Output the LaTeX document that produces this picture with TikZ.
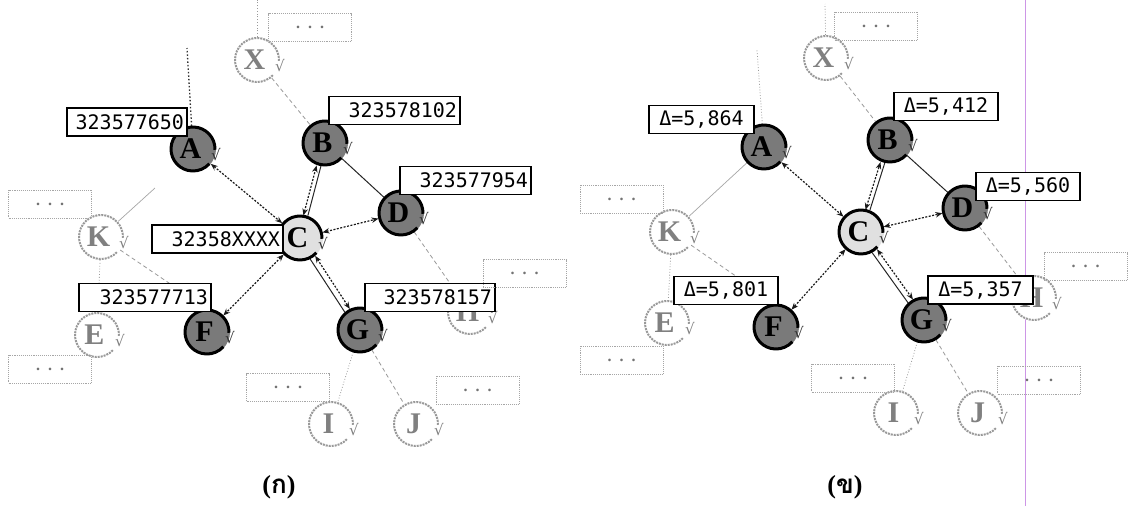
\documentclass[tikz,border=0pt]{standalone}
\usepackage{fontspec}
\setmainfont{Liberation Serif}
\newfontfamily\digfont{DejaVu Sans Mono}
\newfontfamily\chkfont{DejaVu Sans}
\newfontfamily\thaifont[Script=Thai]{Loma}
\usetikzlibrary{calc,arrows.meta}
\pgfdeclarelayer{bg}
\pgfdeclarelayer{paper}
\pgfsetlayers{paper,bg,main}
\definecolor{marginline}{RGB}{205,150,230}
\tikzset{
 base/.style={circle, minimum size=46pt, inner sep=0pt, font=\fontsize{30}{30}\selectfont\bfseries},
 act/.style={base, fill=black!52, text=black},
 cen/.style={base, fill=black!12, text=black},
 ina/.style={base, fill=white, text=black!50},
 lbl/.style={draw=black, fill=white, line width=1.1pt, inner xsep=3pt, inner ysep=0pt, minimum height=28pt, align=right, font=\digfont\fontsize{20}{20}\selectfont},
 dlbl/.style={lbl, align=center},
 dbox/.style={draw=black!35, densely dotted, line width=0.9pt, minimum width=83pt, minimum height=28pt, inner sep=0pt, text=black!55, font=\fontsize{16}{16}\selectfont\bfseries},
 darr/.style={dash pattern=on 2pt off 1.5pt, line width=1.2pt, black!90, {Stealth[length=7pt,width=5.5pt]}-{Stealth[length=7pt,width=5.5pt]}},
 sline/.style={line width=1pt, black!85},
 gdash/.style={line width=0.8pt, black!40, dash pattern=on 4pt off 3pt},
 gdot/.style={dotted, line width=0.8pt, black!40},
 gsol/.style={line width=0.7pt, black!35},
 chk/.style={font=\chkfont\fontsize{15}{15}\selectfont, inner sep=0pt},
 captxt/.style={font=\fontsize{26}{26}\selectfont\bfseries},
}
\newcommand\actring[1]{%
 \draw[line width=3pt] ($(#1)+(-2:22)$) arc[start angle=-2, end angle=318, radius=22pt];
 \node[chk, text=black!80] at ($(#1)+(23,-6)$) {√};}
\newcommand\inaring[1]{%
 \draw[line width=2pt, black!40, densely dotted] ($(#1)+(-2:22)$) arc[start angle=-2, end angle=318, radius=22pt];
 \node[chk, text=black!50] at ($(#1)+(23,-6)$) {√};}
\begin{document}
\begin{tikzpicture}[x=1pt,y=1pt]
\useasboundingbox (0,0) rectangle (1130,-506);
\begin{pgfonlayer}{paper}
\fill[white] (0,0) rectangle (1130,-506);
\draw[line width=0.9pt, marginline] (1025,0) -- (1025,-506);
\end{pgfonlayer}

% ---------- left panel nodes ----------
\node[ina] (lX) at (257,-60) {X\kern5pt};
\node[act] (lA) at (193,-149) {A\kern5pt};
\node[act] (lB) at (325,-143) {B\kern5pt};
\node[cen] (lC) at (300,-238) {C\kern5pt};
\node[act] (lD) at (401,-213) {D\kern5pt};
\node[ina] (lK) at (101,-237) {K\kern5pt};
\node[ina] (lE) at (97,-335) {E\kern5pt};
\node[act] (lF) at (207,-332) {F\kern5pt};
\node[act] (lG) at (360,-330) {G\kern5pt};
\node[ina] (lH) at (470,-312) {H\kern5pt};
\node[ina] (lI) at (331,-424) {I\kern5pt};
\node[ina] (lJ) at (416,-424) {J\kern5pt};
\foreach \n in {lA,lB,lC,lD,lF,lG} {\actring{\n}}
\foreach \n in {lX,lK,lE,lH,lI,lJ} {\inaring{\n}}
\coordinate (lXt) at (257,0);
\coordinate (lAt) at (187,-48);
\coordinate (lKa) at (155,-188);

% ---------- right panel nodes ----------
\node[ina] (rX) at (826,-58) {X\kern5pt};
\node[act] (rA) at (764,-147) {A\kern5pt};
\node[act] (rB) at (890,-140) {B\kern5pt};
\node[cen] (rC) at (861,-232) {C\kern5pt};
\node[act] (rD) at (965,-208) {D\kern5pt};
\node[ina] (rK) at (672,-232) {K\kern5pt};
\node[ina] (rE) at (667,-323) {E\kern5pt};
\node[act] (rF) at (776,-327) {F\kern5pt};
\node[act] (rG) at (924,-320) {G\kern5pt};
\node[ina] (rH) at (1034,-298) {H\kern5pt};
\node[ina] (rI) at (896,-413) {I\kern5pt};
\node[ina] (rJ) at (980,-413) {J\kern5pt};
\foreach \n in {rA,rB,rC,rD,rF,rG} {\actring{\n}}
\foreach \n in {rX,rK,rE,rH,rI,rJ} {\inaring{\n}}
\coordinate (rXt) at (825,-4);
\coordinate (rAt) at (757,-50);

% ---------- connectors ----------
\begin{pgfonlayer}{bg}
\draw[darr] (lA) -- (lC);
\draw[sline, transform canvas={xshift=2pt}] (lC) -- (lB);
\draw[darr, transform canvas={xshift=-2.5pt}] (lC) -- (lB);
\draw[darr] (lC) -- (lD);
\draw[darr] (lC) -- (lF);
\draw[sline, transform canvas={xshift=-2.5pt,yshift=-1.6pt}] (lC) -- (lG);
\draw[darr, transform canvas={xshift=2.5pt,yshift=1.6pt}] (lC) -- (lG);
\draw[sline] (lB) -- (lD);
\draw[gdash] (lX) -- (lB);
\draw[gdot] (lX) -- (lXt);
\draw[dash pattern=on 1.5pt off 2pt, line width=1.3pt, black!80] (lA) -- (lAt);
\draw[gsol] (lK) -- (lKa);
\draw[gdot] (lK) -- (lE);
\draw[gdash] (lK) -- (lF.north);
\draw[gdash] (lD) -- (lH);
\draw[gdot] (lG) -- (lI);
\draw[gdash] (lG) -- (lJ);

\draw[darr] (rA) -- (rC);
\draw[sline, transform canvas={xshift=2pt}] (rC) -- (rB);
\draw[darr, transform canvas={xshift=-2.5pt}] (rC) -- (rB);
\draw[darr] (rC) -- (rD);
\draw[darr] (rC) -- (rF);
\draw[sline, transform canvas={xshift=-2.5pt,yshift=-1.6pt}] (rC) -- (rG);
\draw[darr, transform canvas={xshift=2.5pt,yshift=1.6pt}] (rC) -- (rG);
\draw[sline] (rB) -- (rD);
\draw[gdash] (rX) -- (rB);
\draw[gdot] (rX) -- (rXt);
\draw[gdot] (rA) -- (rAt);
\draw[gsol] (rA) -- (rK);
\draw[gdot] (rK) -- (rE);
\draw[gdash] (rK) -- (rF.north);
\draw[gdash] (rD) -- (rH);
\draw[gdot] (rG) -- (rI);
\draw[gdash] (rG) -- (rJ);
\end{pgfonlayer}

% ---------- labels left ----------
\node[lbl, text width=114pt] (tA) at (127,-122) {323577650};
\node[lbl, text width=125pt] (tB) at (394.5,-110.5) {323578102};
\node[lbl, text width=125pt] (tD) at (465.5,-180.5) {323577954};
\node[lbl, text width=125pt] (tC) at (217.5,-239) {32358XXXX};
\node[lbl, text width=126pt] (tF) at (145,-297.5) {323577713};
\node[lbl, text width=124pt] (tG) at (430,-297.5) {323578157};

% ---------- labels right ----------
\node[dlbl, text width=99pt] (uA) at (701.5,-119.5) {Δ=5,864};
\node[dlbl, text width=98pt] (uB) at (946,-106.5) {Δ=5,412};
\node[dlbl, text width=98pt] (uD) at (1028,-186.5) {Δ=5,560};
\node[dlbl, text width=98pt] (uF) at (726,-290.5) {Δ=5,801};
\node[dlbl, text width=99pt] (uG) at (980.5,-290) {Δ=5,357};

% ---------- dotted boxes ----------
\node[dbox] (d1) at (310,-27.5) {.\enspace.\enspace.};
\node[dbox] (d2) at (50,-204) {.\enspace.\enspace.};
\node[dbox] (d3) at (50,-369) {.\enspace.\enspace.};
\node[dbox] (d4) at (288,-387.5) {.\enspace.\enspace.};
\node[dbox] (d5) at (477.5,-390) {.\enspace.\enspace.};
\node[dbox] (d6) at (524.5,-273.5) {.\enspace.\enspace.};
\node[dbox] (e1) at (876,-26) {.\enspace.\enspace.};
\node[dbox] (e2) at (621.5,-199) {.\enspace.\enspace.};
\node[dbox] (e3) at (621.5,-360) {.\enspace.\enspace.};
\node[dbox] (e4) at (853,-378) {.\enspace.\enspace.};
\node[dbox] (e5) at (1039,-380) {.\enspace.\enspace.};
\node[dbox] (e6) at (1085.5,-266.5) {.\enspace.\enspace.};

% ---------- captions ----------
\node[captxt] (capL) at (279,-487) {({\thaifont ก})};
\node[captxt] (capR) at (845,-487) {({\thaifont ข})};
\end{tikzpicture}
\end{document}
